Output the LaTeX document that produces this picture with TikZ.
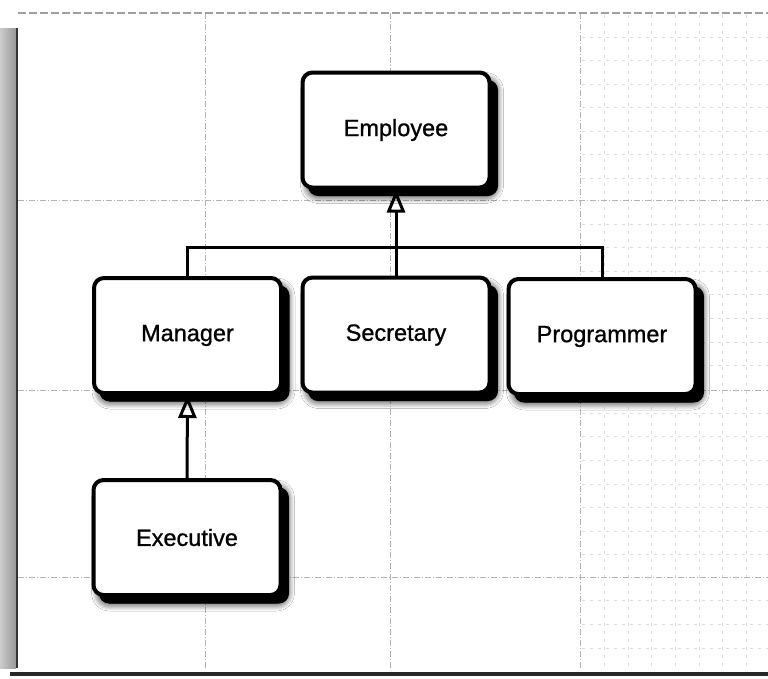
\documentclass[tikz,border=0pt]{standalone}
\usepackage{fontspec}
\setmainfont{Liberation Sans}
\newfontfamily\boxfont{Liberation Sans}[FakeBold=0.9]
\usetikzlibrary{arrows.meta,shadows.blur}
\begin{document}
\begin{tikzpicture}[x=1pt,y=-1pt,
  classbox/.style={draw=black, line width=4pt, rounded corners=10pt, fill=white,
    minimum width=187pt, minimum height=115pt, inner sep=0pt,
    font=\boxfont\fontsize{23.5}{27}\selectfont,
    blur shadow={shadow xshift=6pt, shadow yshift=-8pt, shadow blur radius=8pt, shadow blur steps=10, shadow opacity=100}},
  hardshadow/.style={fill=black, rounded corners=10pt},
  inh/.style={line width=3pt, -{Triangle[open, width=18pt, length=23pt, line width=3pt]}},
  conn/.style={line width=3pt},
  maingrid/.style={gray!60, line width=1pt, dash pattern=on 6pt off 2pt on 1pt off 2pt},
  finegrid/.style={gray!28, line width=0.7pt, dash pattern=on 3pt off 5pt}
]
\useasboundingbox (0,0) rectangle (768,678);
\fill[white] (0,0) rectangle (768,678);
% fine grid on right side
\foreach \x in {604,628,651,675,699,722,746} {\draw[finegrid] (\x,15) -- (\x,670);}
\foreach \y in {37,60,84,107,131,154,178,224,247,271,294,318,342,365,413,436,460,484,507,531,554,600,624,648} {\draw[finegrid] (582,\y) -- (768,\y);}
% main grid
\foreach \x in {205,390,580} {\draw[maingrid] (\x,13) -- (\x,670);}
\foreach \y in {200,390,577} {\draw[maingrid] (18,\y) -- (768,\y);}
\draw[gray!75, line width=1.2pt, dash pattern=on 8pt off 3pt] (18,13) -- (768,13);
% left edge and bottom edge
\shade[left color=gray!40, right color=gray!80] (0,28) rectangle (16,668);
\draw[black!80, line width=1.5pt] (17,28) -- (17,668);
\draw[black!85, line width=4pt] (10,674) -- (768,674);

% hard shadows under boxes
\foreach \cx/\cy in {396/130, 187.5/335.5, 396/335, 602/336.5, 187/537.5} {
  \fill[hardshadow] (\cx-88,\cy-50) rectangle (\cx+102,\cy+66);
}

% nodes
\node[classbox] (emp) at (396,130) {Employee};
\node[classbox] (man) at (187.5,335.5) {Manager};
\node[classbox] (sec) at (396,335) {Secretary};
\node[classbox] (prog) at (602,336.5) {Programmer};
\node[classbox] (exec) at (187,537.5) {Executive};

% connectors
\coordinate (junc) at (396,247);
\draw[conn] (man.north) |- (junc) -| (prog.north);
\draw[inh] (sec.north) -- (emp.south);
\draw[inh] (exec.north) -- (man.south);
\end{tikzpicture}
\end{document}
